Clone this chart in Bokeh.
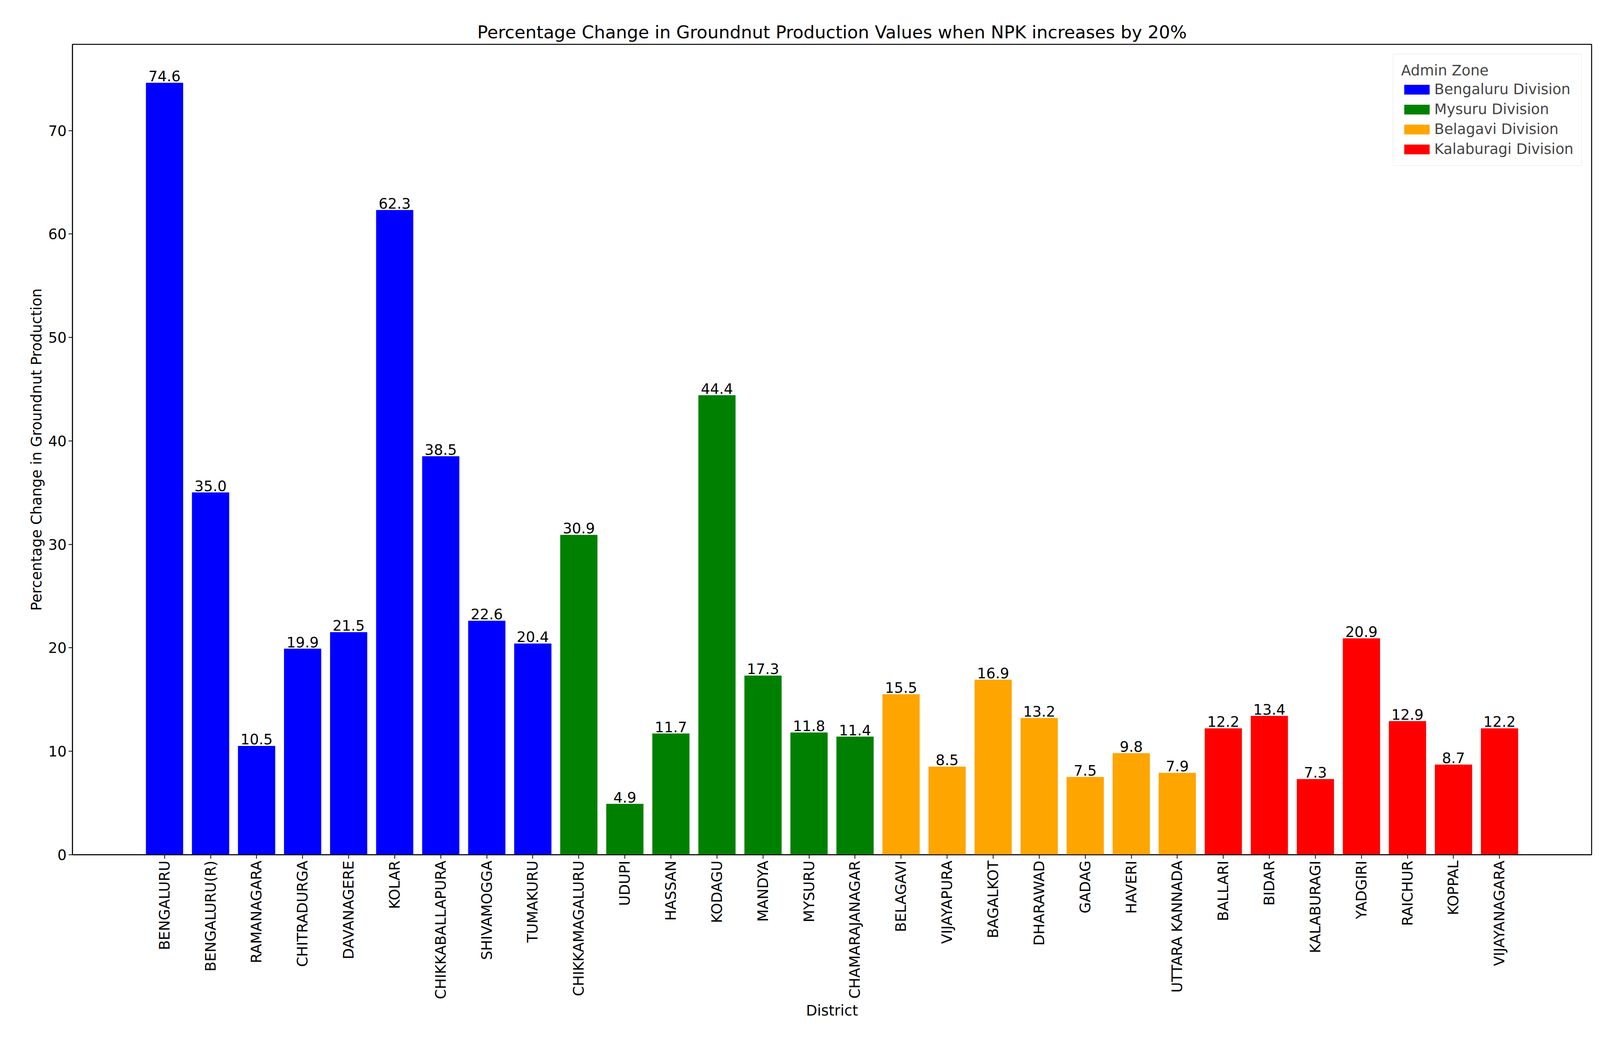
from bokeh.plotting import figure
from bokeh.models import FixedTicker, Range1d, ColumnDataSource, Legend, LegendItem
from bokeh.embed import file_html
from bokeh.resources import INLINE

districts = ["BENGALURU","BENGALURU(R)","RAMANAGARA","CHITRADURGA","DAVANAGERE","KOLAR","CHIKKABALLAPURA","SHIVAMOGGA","TUMAKURU",
             "CHIKKAMAGALURU","UDUPI","HASSAN","KODAGU","MANDYA","MYSURU","CHAMARAJANAGAR",
             "BELAGAVI","VIJAYAPURA","BAGALKOT","DHARAWAD","GADAG","HAVERI","UTTARA KANNADA",
             "BALLARI","BIDAR","KALABURAGI","YADGIRI","RAICHUR","KOPPAL","VIJAYANAGARA"]
values = [74.6,35.0,10.5,19.9,21.5,62.3,38.5,22.6,20.4,
          30.9,4.9,11.7,44.4,17.3,11.8,11.4,
          15.5,8.5,16.9,13.2,7.5,9.8,7.9,
          12.2,13.4,7.3,20.9,12.9,8.7,12.2]
zones = ["Bengaluru Division"]*9 + ["Mysuru Division"]*7 + ["Belagavi Division"]*7 + ["Kalaburagi Division"]*7
zone_names = ["Bengaluru Division","Mysuru Division","Belagavi Division","Kalaburagi Division"]
zone_colors = ["blue","green","orange","red"]

FONT = "DejaVu Sans"
n = len(districts)
p = figure(width=4184, height=2684, output_backend="svg", toolbar_location=None,
           x_range=Range1d(-0.5-0.05*(n), n-0.5+0.05*(n)), y_range=Range1d(0, max(values)*1.05),
           title="Percentage Change in Groundnut Production Values when NPK increases by 20%",
           min_border_left=185, min_border_right=110, min_border_top=113, min_border_bottom=497)
p.title.align = "center"
p.title.text_font = FONT
p.title.text_font_size = "45px"
p.title.text_font_style = "normal"
p.title.text_color = "black"
p.grid.visible = False
p.outline_line_color = "black"
p.outline_line_width = 2.5

items = []
for zn, zc in zip(zone_names, zone_colors):
    idx = [i for i, z in enumerate(zones) if z == zn]
    src = ColumnDataSource(dict(x=idx, top=[values[i] for i in idx],
                                lab=["%.1f" % values[i] for i in idx]))
    r = p.vbar(x="x", top="top", width=0.8, color=zc, source=src)
    p.text(x="x", y="top", text="lab", source=src, text_align="center", text_baseline="bottom",
           y_offset=-4, text_font_size="37px", text_color="black", text_font={"value": FONT})
    items.append(LegendItem(label=zn, renderers=[r]))

leg = Legend(items=items, location="top_right", title="Admin Zone")
leg.title_text_font = FONT
leg.title_text_font_size = "37px"
leg.title_text_font_style = "normal"
leg.label_text_font = FONT
leg.label_text_font_size = "37px"
leg.glyph_width = 80
leg.glyph_height = 30
leg.border_line_color = "#cccccc"
leg.margin = 25
leg.padding = 20
leg.spacing = 8
p.add_layout(leg, "center")

p.xaxis.ticker = FixedTicker(ticks=list(range(n)))
p.xaxis.major_label_overrides = {i: d for i, d in enumerate(districts)}
p.xaxis.major_label_orientation = 1.5707963
p.yaxis.ticker = FixedTicker(ticks=[0,10,20,30,40,50,60,70])
for ax in (p.xaxis, p.yaxis):
    ax.major_label_text_font = FONT
    ax.major_label_text_font_size = "37px"
    ax.major_label_text_color = "black"
    ax.axis_label_text_font = FONT
    ax.axis_label_text_font_size = "37px"
    ax.axis_label_text_font_style = "normal"
    ax.axis_label_text_color = "black"
    ax.minor_tick_line_color = None
    ax.major_tick_out = 10
    ax.major_tick_in = 0
    ax.major_tick_line_width = 2
    ax.axis_line_width = 2
p.xaxis.axis_label = "District"
p.yaxis.axis_label = "Percentage Change in Groundnut Production"

open("out.html", "w").write(file_html(p, INLINE))
